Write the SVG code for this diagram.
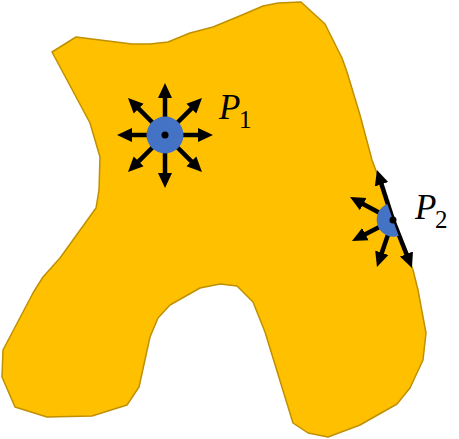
<svg xmlns="http://www.w3.org/2000/svg" width="459" height="439" viewBox="0 0 459 439">
  <style>
    .shape { fill: #FFC000; stroke: #BF9000; stroke-width: 1.5; stroke-linejoin: round; }
    .pt { fill: #4472C4; }
    .dot { fill: #000000; }
    .arr { stroke: #000000; stroke-width: 4.5; fill: none; marker-end: url(#ah); }
    .lbl { font-family: "Liberation Serif", "DejaVu Serif", serif; fill: #000000; }
    .it { font-style: italic; font-size: 35px; }
    .sub { font-size: 25px; }
  </style>
  <defs>
    <marker id="ah" markerUnits="userSpaceOnUse" markerWidth="16" markerHeight="16" viewBox="0 0 16 16" refX="5" refY="8" orient="auto">
      <path d="M0,1 L15,8 L0,15 Z" fill="#000000"/>
    </marker>
  </defs>
  <rect width="459" height="439" fill="#FFFFFF"/>
  <g id="region">
    <path class="shape" d="M52,52 L76,37 L132,44 L150,44 L168,42 L190,33 L213,27 L242,15 L263,6 L278,3 L301,2 L325,24 L342,58 L347,72 L360,115 L372,160 L413,270 L418,290 L426,333 L423,360 L410,388 L397,404 L360,425 L328,437 L308,433 L293,423 L265,332 L253,302 L237,286 L220,284 L200,288 L170,305 L158,318 L150,337 L139,387 L127,405 L92,416 L47,417 L15,407 L2,377 L3,350 L33,293 L43,277 L60,258 L96,208 L99,190 L100,157 L90,123 Z"/>
  </g>
  <g id="connectors">
    <line class="arr" x1="165" y1="135" x2="165" y2="93"/>
    <line class="arr" x1="165" y1="135" x2="165" y2="178"/>
    <line class="arr" x1="165" y1="135" x2="127" y2="135"/>
    <line class="arr" x1="165" y1="135" x2="203" y2="135"/>
    <line class="arr" x1="165" y1="135" x2="135.1" y2="105.1"/>
    <line class="arr" x1="165" y1="135" x2="194.9" y2="105.1"/>
    <line class="arr" x1="165" y1="135" x2="135.1" y2="164.9"/>
    <line class="arr" x1="165" y1="135" x2="194.9" y2="164.9"/>
    <line class="arr" x1="393" y1="220" x2="380.0" y2="179.5"/>
    <line class="arr" x1="393" y1="220" x2="358.8" y2="201.7"/>
    <line class="arr" x1="393" y1="220" x2="360.9" y2="236.4"/>
    <line class="arr" x1="393" y1="220" x2="380.2" y2="257.5"/>
    <line class="arr" x1="393" y1="220" x2="408.3" y2="258.7"/>
  </g>
  <g id="p1">
    <circle class="pt" cx="165" cy="135" r="18.5"/>
    <circle class="dot" cx="165" cy="135" r="3.5"/>
    <text class="lbl" x="219" y="119"><tspan class="it">P</tspan><tspan class="sub" x="239" y="128">1</tspan></text>
  </g>
  <g id="p2">
    <path class="pt" d="M387.3,204 A17,17 0 0 0 398.7,236 Z"/>
    <circle class="dot" cx="393" cy="220" r="3.5"/>
    <text class="lbl" x="415" y="219"><tspan class="it">P</tspan><tspan class="sub" x="435" y="228">2</tspan></text>
  </g>
</svg>
